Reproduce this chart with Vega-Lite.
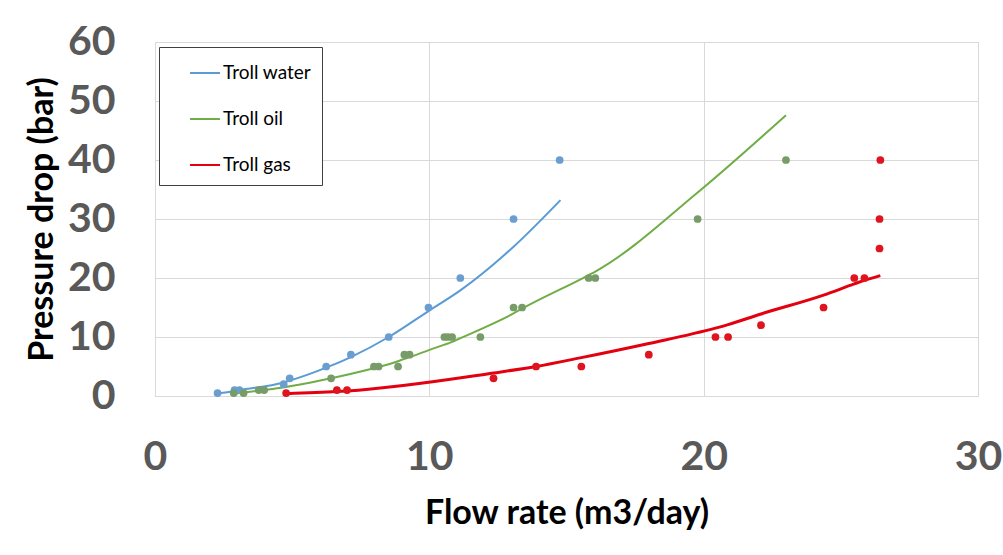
{
  "$schema": "https://vega.github.io/schema/vega-lite/v6.json",
  "width": 823,
  "height": 354,
  "autosize": {"type": "none"},
  "padding": {"left": 155, "top": 42, "right": 25, "bottom": 159},
  "background": "white",
  "config": {
    "view": {"stroke": "#d4d4d4", "strokeWidth": 1},
    "font": "Lato"
  },
  "datasets": {
    "measured": [
      {"fluid": "Troll water", "q": 2.28, "dp": 0.5},
      {"fluid": "Troll water", "q": 2.9, "dp": 1},
      {"fluid": "Troll water", "q": 3.08, "dp": 1},
      {"fluid": "Troll water", "q": 4.69, "dp": 2},
      {"fluid": "Troll water", "q": 4.91, "dp": 3},
      {"fluid": "Troll water", "q": 6.24, "dp": 5},
      {"fluid": "Troll water", "q": 7.14, "dp": 7},
      {"fluid": "Troll water", "q": 8.52, "dp": 10},
      {"fluid": "Troll water", "q": 9.97, "dp": 15},
      {"fluid": "Troll water", "q": 11.13, "dp": 20},
      {"fluid": "Troll water", "q": 13.07, "dp": 30},
      {"fluid": "Troll water", "q": 14.75, "dp": 40},
      {"fluid": "Troll oil", "q": 2.87, "dp": 0.5},
      {"fluid": "Troll oil", "q": 3.23, "dp": 0.5},
      {"fluid": "Troll oil", "q": 3.78, "dp": 1},
      {"fluid": "Troll oil", "q": 3.98, "dp": 1},
      {"fluid": "Troll oil", "q": 6.42, "dp": 3},
      {"fluid": "Troll oil", "q": 7.98, "dp": 5},
      {"fluid": "Troll oil", "q": 8.15, "dp": 5},
      {"fluid": "Troll oil", "q": 8.86, "dp": 5},
      {"fluid": "Troll oil", "q": 9.09, "dp": 7},
      {"fluid": "Troll oil", "q": 9.28, "dp": 7},
      {"fluid": "Troll oil", "q": 10.55, "dp": 10},
      {"fluid": "Troll oil", "q": 10.68, "dp": 10},
      {"fluid": "Troll oil", "q": 10.83, "dp": 10},
      {"fluid": "Troll oil", "q": 11.86, "dp": 10},
      {"fluid": "Troll oil", "q": 13.07, "dp": 15},
      {"fluid": "Troll oil", "q": 13.38, "dp": 15},
      {"fluid": "Troll oil", "q": 15.81, "dp": 20},
      {"fluid": "Troll oil", "q": 16.05, "dp": 20},
      {"fluid": "Troll oil", "q": 19.78, "dp": 30},
      {"fluid": "Troll oil", "q": 23.0, "dp": 40},
      {"fluid": "Troll gas", "q": 4.78, "dp": 0.5},
      {"fluid": "Troll gas", "q": 6.63, "dp": 1},
      {"fluid": "Troll gas", "q": 7.0, "dp": 1},
      {"fluid": "Troll gas", "q": 12.34, "dp": 3},
      {"fluid": "Troll gas", "q": 13.89, "dp": 5},
      {"fluid": "Troll gas", "q": 15.54, "dp": 5},
      {"fluid": "Troll gas", "q": 18.0, "dp": 7},
      {"fluid": "Troll gas", "q": 20.43, "dp": 10},
      {"fluid": "Troll gas", "q": 20.89, "dp": 10},
      {"fluid": "Troll gas", "q": 22.09, "dp": 12},
      {"fluid": "Troll gas", "q": 24.37, "dp": 15},
      {"fluid": "Troll gas", "q": 25.49, "dp": 20},
      {"fluid": "Troll gas", "q": 25.86, "dp": 20},
      {"fluid": "Troll gas", "q": 26.41, "dp": 25},
      {"fluid": "Troll gas", "q": 26.41, "dp": 30},
      {"fluid": "Troll gas", "q": 26.44, "dp": 40}
    ],
    "model": [
      {"fluid": "Troll water", "q": 2.28, "dp": 0.4},
      {"fluid": "Troll water", "q": 2.9, "dp": 0.85},
      {"fluid": "Troll water", "q": 3.08, "dp": 1.0},
      {"fluid": "Troll water", "q": 4.69, "dp": 2.3},
      {"fluid": "Troll water", "q": 4.91, "dp": 2.6},
      {"fluid": "Troll water", "q": 6.24, "dp": 4.8},
      {"fluid": "Troll water", "q": 7.14, "dp": 6.6},
      {"fluid": "Troll water", "q": 8.52, "dp": 10.0},
      {"fluid": "Troll water", "q": 9.97, "dp": 14.4},
      {"fluid": "Troll water", "q": 11.13, "dp": 17.9},
      {"fluid": "Troll water", "q": 13.07, "dp": 25.3},
      {"fluid": "Troll water", "q": 14.78, "dp": 33.2},
      {"fluid": "Troll oil", "q": 2.87, "dp": 0.4},
      {"fluid": "Troll oil", "q": 3.23, "dp": 0.6},
      {"fluid": "Troll oil", "q": 3.78, "dp": 0.9},
      {"fluid": "Troll oil", "q": 3.98, "dp": 1.0},
      {"fluid": "Troll oil", "q": 6.42, "dp": 3.0},
      {"fluid": "Troll oil", "q": 7.98, "dp": 4.7},
      {"fluid": "Troll oil", "q": 8.15, "dp": 4.9},
      {"fluid": "Troll oil", "q": 8.86, "dp": 5.9},
      {"fluid": "Troll oil", "q": 9.09, "dp": 6.3},
      {"fluid": "Troll oil", "q": 9.28, "dp": 6.6},
      {"fluid": "Troll oil", "q": 10.55, "dp": 8.7},
      {"fluid": "Troll oil", "q": 10.68, "dp": 8.9},
      {"fluid": "Troll oil", "q": 10.83, "dp": 9.2},
      {"fluid": "Troll oil", "q": 11.86, "dp": 11.3},
      {"fluid": "Troll oil", "q": 13.07, "dp": 14.0},
      {"fluid": "Troll oil", "q": 13.38, "dp": 14.8},
      {"fluid": "Troll oil", "q": 15.81, "dp": 20.5},
      {"fluid": "Troll oil", "q": 16.05, "dp": 21.1},
      {"fluid": "Troll oil", "q": 19.78, "dp": 34.5},
      {"fluid": "Troll oil", "q": 23.0, "dp": 47.6},
      {"fluid": "Troll gas", "q": 4.78, "dp": 0.4},
      {"fluid": "Troll gas", "q": 6.63, "dp": 0.75},
      {"fluid": "Troll gas", "q": 7.0, "dp": 0.85},
      {"fluid": "Troll gas", "q": 12.34, "dp": 3.9},
      {"fluid": "Troll gas", "q": 13.89, "dp": 5.0},
      {"fluid": "Troll gas", "q": 15.54, "dp": 6.5},
      {"fluid": "Troll gas", "q": 18.0, "dp": 8.9},
      {"fluid": "Troll gas", "q": 20.43, "dp": 11.5},
      {"fluid": "Troll gas", "q": 20.89, "dp": 12.1},
      {"fluid": "Troll gas", "q": 22.09, "dp": 13.9},
      {"fluid": "Troll gas", "q": 24.37, "dp": 17.1},
      {"fluid": "Troll gas", "q": 25.49, "dp": 19.0},
      {"fluid": "Troll gas", "q": 25.86, "dp": 19.6},
      {"fluid": "Troll gas", "q": 26.44, "dp": 20.4}
    ]
  },
  "encoding": {
    "x": {
      "field": "q",
      "type": "quantitative",
      "scale": {"domain": [0, 30], "nice": false},
      "axis": {
        "values": [0, 10, 20, 30],
        "grid": true,
        "gridColor": "#d9d9d9",
        "domain": false,
        "ticks": false,
        "tickSize": 0,
        "labelFont": "Lato",
        "labelFontWeight": "bold",
        "labelFontSize": 41,
        "labelColor": "#595959",
        "labelPadding": 41,
        "labelFlush": false,
        "labelOverlap": false,
        "title": "Flow rate (m3/day)",
        "titleFont": "Lato",
        "titleFontSize": 34,
        "titleFontWeight": "bold",
        "titleColor": "#000000",
        "titlePadding": 19
      }
    },
    "y": {
      "field": "dp",
      "type": "quantitative",
      "scale": {"domain": [0, 60], "nice": false},
      "axis": {
        "values": [0, 10, 20, 30, 40, 50, 60],
        "grid": true,
        "gridColor": "#d9d9d9",
        "domain": false,
        "ticks": false,
        "tickSize": 0,
        "labelFont": "Lato",
        "labelFontWeight": "bold",
        "labelFontSize": 41,
        "labelColor": "#595959",
        "labelPadding": 40,
        "labelOverlap": false,
        "title": "Pressure drop (bar)",
        "titleFont": "Lato",
        "titleFontSize": 34,
        "titleFontWeight": "bold",
        "titleColor": "#000000",
        "titlePadding": 8
      }
    }
  },
  "layer": [
    {
      "data": {"name": "model"},
      "transform": [{"filter": "datum.fluid !== 'Troll gas'"}],
      "mark": {"type": "line", "interpolate": "monotone", "strokeWidth": 2},
      "encoding": {
        "color": {
          "field": "fluid",
          "type": "nominal",
          "scale": {
            "domain": ["Troll water", "Troll oil", "Troll gas"],
            "range": ["#5b9bd5", "#70ad47", "#e3000f"]
          },
          "legend": {
            "title": null,
            "orient": "none",
            "legendX": 4,
            "legendY": 5,
            "symbolType": "stroke",
            "symbolSize": 900,
            "symbolStrokeWidth": 2,
            "symbolOffset": 20,
            "labelOffset": 2,
            "labelFont": "Lato",
            "labelFontSize": 19,
            "labelColor": "#000000",
            "padding": 10,
            "rowPadding": 20,
            "strokeColor": "#404040",
            "fillColor": "white"
          }
        }
      }
    },
    {
      "data": {"name": "model"},
      "transform": [{"filter": "datum.fluid === 'Troll gas'"}],
      "mark": {"type": "line", "interpolate": "monotone", "strokeWidth": 3},
      "encoding": {
        "color": {"field": "fluid", "type": "nominal"}
      }
    },
    {
      "data": {"name": "measured"},
      "mark": {"type": "circle", "size": 60, "opacity": 1},
      "encoding": {
        "fill": {
          "field": "fluid",
          "type": "nominal",
          "scale": {
            "domain": ["Troll water", "Troll oil", "Troll gas"],
            "range": ["#6a9ed0", "#789c68", "#e0141e"]
          },
          "legend": null
        }
      }
    }
  ]
}
